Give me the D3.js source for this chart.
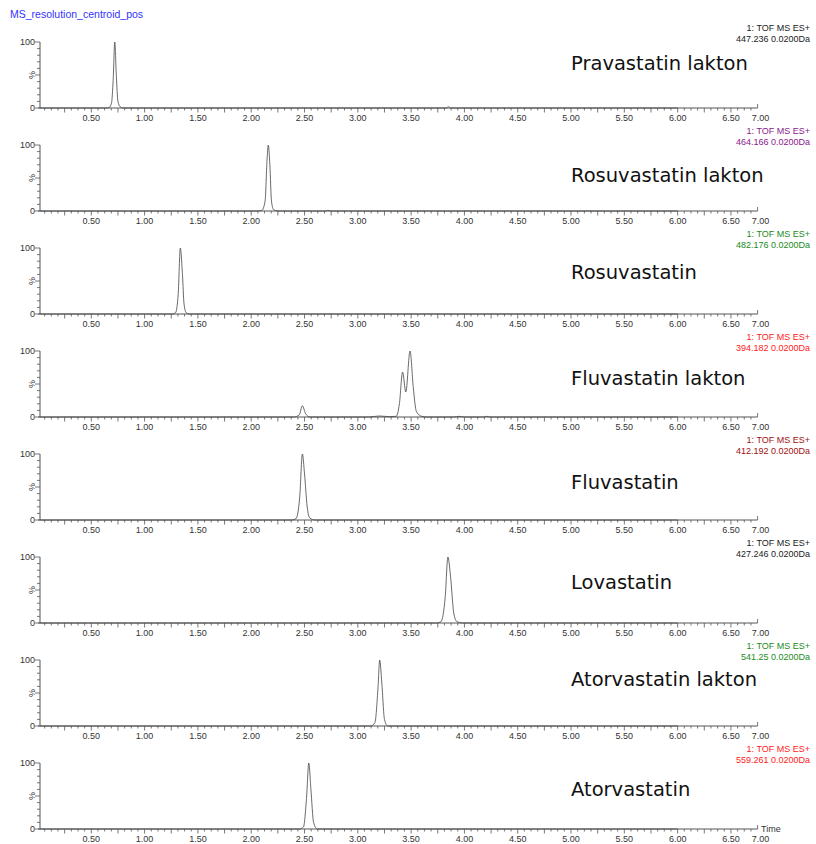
<!DOCTYPE html>
<html>
<head>
<meta charset="utf-8">
<script src="https://cdn.jsdelivr.net/npm/d3@7"></script>
<style>
  body { margin: 0; background: #fff; }
  svg { display: block; }
</style>
</head>
<body>
<svg></svg>
<script>
/*
*  DATA
*/

let compounds = ['Pravastatin lakton', 'Rosuvastatin lakton', 'Rosuvastatin', 'Fluvastatin lakton',
                 'Fluvastatin', 'Lovastatin', 'Atorvastatin lakton', 'Atorvastatin']
let masses = ['447.236 0.0200Da', '464.166 0.0200Da', '482.176 0.0200Da', '394.182 0.0200Da',
              '412.192 0.0200Da', '427.246 0.0200Da', '541.25 0.0200Da', '559.261 0.0200Da']
let massColors = ['#222', '#8b1a8b', '#228b22', '#ff2020', '#a01010', '#222', '#228b22', '#ff2020']

let timeTicks = [0.5, 1.0, 1.5, 2.0, 2.5, 3.0, 3.5, 4.0, 4.5, 5.0, 5.5, 6.0, 6.5]
let endLabel = '7.00'

// [time, %]
let praLakton = [[0,0],[0.64,0],[0.67,1],[0.69,8],[0.705,42],[0.72,100],[0.735,48],[0.75,10],[0.77,2],[0.80,0],
                 [3.83,0],[3.85,2],[3.87,0],[6.0,0]]
let rosLakton = [[0,0],[2.06,0],[2.10,1],[2.13,15],[2.15,82],[2.16,100],[2.175,70],[2.19,15],[2.21,2],[2.25,0],
                 [2.70,0],[2.72,1],[2.74,0],[6.0,0]]
let rosuva = [[0,0],[1.26,0],[1.29,2],[1.315,30],[1.335,100],[1.355,60],[1.37,15],[1.39,2],[1.42,0],[6.0,0]]
let fluLakton = [[0,0],[2.40,0],[2.45,3],[2.48,17],[2.51,5],[2.55,0],[3.10,0],[3.20,1.5],[3.30,0.5],
                 [3.36,1],[3.39,20],[3.42,68],[3.45,38],[3.49,100],[3.52,45],[3.55,8],[3.60,1],[3.65,0],
                 [3.90,0],[3.95,1],[4.00,0],[4.18,0],[4.21,1],[4.24,0],[6.0,0]]
let fluva = [[0,0],[2.38,0],[2.42,2],[2.455,35],[2.48,100],[2.50,70],[2.525,20],[2.55,3],[2.60,0],[6.0,0]]
let lova = [[0,0],[3.74,0],[3.78,2],[3.82,40],[3.845,100],[3.87,70],[3.90,15],[3.93,2],[3.98,0],[6.0,0]]
let atoLakton = [[0,0],[3.12,0],[3.16,5],[3.19,60],[3.205,100],[3.225,65],[3.25,10],[3.28,0],[6.0,0]]
let atorva = [[0,0],[2.45,0],[2.49,3],[2.52,50],[2.54,100],[2.56,60],[2.585,10],[2.62,0],[6.0,0]]

let traces = [praLakton, rosLakton, rosuva, fluLakton, fluva, lova, atoLakton, atorva]

/*
*  RUN
*/

let width = 816,
    height = 844,
    step = 103.0

// where the compound name sits below each panel top (layout only)
let nameOffsets = [28, 37, 31, 34, 35, 32, 26, 33]

let svg = d3.select('svg').attr('width', width).attr('height', height)

svg.append('text')
  .attr('x', 10).attr('y', 18)
  .attr('font-family', 'Liberation Sans, Arial, sans-serif')
  .attr('font-size', 10.5)
  .attr('fill', '#3333ff')
  .text('MS_resolution_centroid_pos')

let x = d3.scaleLinear().domain([0, 6.75]).range([38, 757.6])

compounds.forEach((name, i) => drawPanel(i, name))

/*
*  HELPERS
*/

function drawPanel(i, name){
  let top = 42 + i * step,
      bottom = 108 + i * step
  let y = d3.scaleLinear().domain([0, 100]).range([bottom, top])
  let g = svg.append('g').attr('class', 'panel')
  let font = 'Liberation Sans, Arial, sans-serif'

  // header on the right
  let hd = g.append('g').attr('font-family', font).attr('font-size', 9)
    .attr('text-anchor', 'end').attr('fill', massColors[i])
  hd.append('text').attr('x', 810).attr('y', top - 11).text('1: TOF MS ES+')
  hd.append('text').attr('x', 810).attr('y', top - 0.5).text(masses[i])

  // y axis
  g.append('line')
    .attr('x1', 40).attr('x2', 40).attr('y1', top).attr('y2', bottom)
    .attr('stroke', '#555').attr('stroke-width', 1)
  g.selectAll('.ytick').data(d3.range(0, 101, 10)).enter().append('line')
    .attr('x1', d => d % 50 === 0 ? 35 : 37).attr('x2', 40)
    .attr('y1', d => y(d)).attr('y2', d => y(d))
    .attr('stroke', '#555').attr('stroke-width', 0.8)
  let yl = g.append('g').attr('font-family', font).attr('font-size', 9).attr('fill', '#333')
  yl.append('text').attr('x', 35).attr('y', top + 3).attr('text-anchor', 'end').text('100')
  yl.append('text').attr('x', 35).attr('y', bottom + 3).attr('text-anchor', 'end').text('0')
  yl.append('text').attr('text-anchor', 'middle')
    .attr('transform', `translate(35,${y(50)}) rotate(-90)`).text('%')

  // x axis
  g.append('line')
    .attr('x1', 40).attr('x2', x.range()[1]).attr('y1', bottom).attr('y2', bottom)
    .attr('stroke', '#555').attr('stroke-width', 1)
  let minor = d3.range(1, 108).map(k => k * 0.0625).filter(t => x(t) > 41 && x(t) < x.range()[1] - 1)
  g.selectAll('.xtick').data(minor).enter().append('line')
    .attr('x1', d => x(d)).attr('x2', d => x(d))
    .attr('y1', bottom).attr('y2', d => Math.abs(d * 4 - Math.round(d * 4)) < 1e-6 ? bottom + 4.5 : bottom + 2.5)
    .attr('stroke', '#555').attr('stroke-width', 0.8)
  g.append('line')
    .attr('x1', x.range()[1]).attr('x2', x.range()[1]).attr('y1', bottom - 4).attr('y2', bottom)
    .attr('stroke', '#555').attr('stroke-width', 0.8)
  let xl = g.append('g').attr('font-family', font).attr('font-size', 9).attr('fill', '#333')
    .attr('text-anchor', 'middle')
  xl.selectAll('text').data(timeTicks).enter().append('text')
    .attr('x', d => x(d)).attr('y', bottom + 12.5)
    .text(d => d.toFixed(2))
  xl.append('text').attr('x', x.range()[1] + 3).attr('y', bottom + 12.5).text(endLabel)
  if(i === compounds.length - 1){
    g.append('text').attr('x', 761).attr('y', bottom + 3)
      .attr('font-family', font).attr('font-size', 9).attr('fill', '#333').text('Time')
  }

  // trace
  let line = d3.line().x(d => x(d[0])).y(d => y(d[1])).curve(d3.curveMonotoneX)
  g.append('path').datum(traces[i])
    .attr('d', line).attr('fill', 'none')
    .attr('stroke', '#444').attr('stroke-width', 0.8)

  // compound name
  g.append('text').attr('x', 571).attr('y', top + nameOffsets[i])
    .attr('font-family', 'DejaVu Sans, sans-serif').attr('font-size', 19.5).attr('fill', '#111')
    .text(name)
}
</script>
</body>
</html>
